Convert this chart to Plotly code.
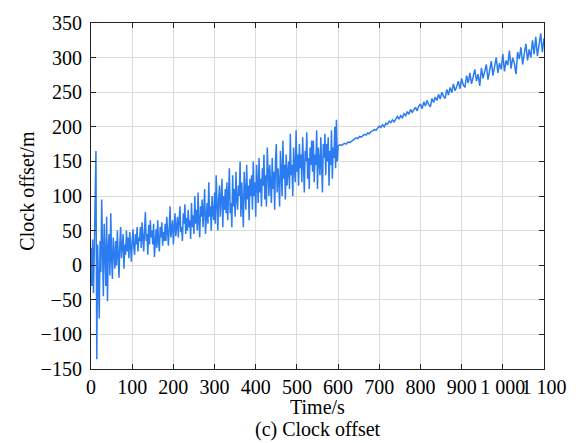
import plotly.graph_objects as go

# --- Data ---
# Segment 1: noisy part, sampled every 2 s from 0 s to 598 s
t_noisy = list(range(0, 600, 2))
offset_noisy = [
    25, -30, 37, -40, 20, 125, 165, -136, 30, -20, -77, 35, -10, 95, 0,
    -45, 60, 15, -30, 70, -52, 25, 45, -15, 75, 10, -20, 40, 20, -5,
    35, 0, 50, 20, -18, 30, 55, 10, 25, 45, -5, 30, 15, 50, 20,
    40, 10, 48, 30, 5, 35, 52, 25, 15, 45, 30, 55, 20, 40, 35,
    55, 25, 62, 40, 20, 50, 77, 35, 45, 15, 58, 30, 65, 40, 50,
    30, 60, 12, 45, 52, 25, 65, 35, 20, 55, 40, 62, 28, 48, 35,
    60, 35, 70, 45, 28, 55, 85, 40, 50, 65, 30, 58, 75, 42, 55,
    70, 40, 62, 85, 48, 55, 35, 75, 60, 88, 45, 68, 50, 80, 55,
    65, 38, 90, 55, 72, 45, 100, 60, 80, 50, 105, 62, 40, 85, 70,
    95, 55, 80, 110, 45, 75, 90, 60, 120, 70, 85, 50, 100, 75, 65,
    105, 60, 130, 80, 50, 95, 115, 70, 90, 125, 55, 100, 80, 110, 75,
    120, 65, 100, 140, 75, 90, 55, 130, 85, 110, 70, 135, 95, 80, 115,
    100, 150, 70, 120, 90, 55, 135, 105, 80, 145, 95, 115, 65, 125, 100,
    130, 80, 150, 100, 120, 70, 145, 110, 90, 155, 105, 125, 85, 140, 115,
    160, 95, 130, 85, 170, 115, 100, 145, 120, 90, 155, 110, 135, 80, 150,
    175, 105, 140, 120, 85, 165, 130, 100, 180, 125, 145, 95, 160, 115, 135,
    150, 110, 190, 130, 145, 100, 170, 140, 120, 195, 135, 160, 115, 175, 140,
    160, 120, 185, 140, 105, 165, 150, 192, 125, 155, 110, 170, 145, 180, 135,
    180, 120, 160, 145, 195, 110, 170, 150, 130, 185, 140, 105, 175, 155, 190,
    130, 175, 150, 185, 115, 165, 145, 195, 125, 170, 155, 200, 140, 210, 150,
]
# Segment 2: smoother part, sampled every 4 s from 600 s to 1100 s
t_smooth = list(range(600, 1101, 4))
offset_smooth = [
    172, 174, 173, 175, 176, 175, 178, 177, 179, 181,
    182, 184, 183, 186, 185, 187, 189, 188, 191, 190,
    193, 194, 196, 195, 198, 201, 199, 203, 200, 205,
    204, 208, 206, 210, 207, 212, 215, 211, 216, 213,
    219, 216, 222, 218, 225, 221, 224, 228, 223, 230,
    233, 226, 236, 230, 238, 232, 229, 241, 235, 243,
    238, 247, 240, 250, 244, 241, 254, 246, 257, 249,
    262, 252, 258, 266, 255, 270, 260, 257, 274, 263,
    278, 262, 272, 283, 266, 276, 259, 285, 270, 280,
    290, 268, 282, 295, 274, 287, 300, 278, 292, 283,
    305, 280, 296, 289, 310, 284, 300, 292, 276, 308,
    298, 315, 290, 305, 320, 296, 312, 300, 325, 305,
    330, 302, 318, 335, 308, 328,
]

x_tickvals = [0, 100, 200, 300, 400, 500, 600, 700, 800, 900, 1000, 1100]
x_ticktext = ["0", "100", "200", "300", "400", "500", "600", "700", "800",
              "900", "1 000", "1 100"]
y_tickvals = [-150, -100, -50, 0, 50, 100, 150, 200, 250, 300, 350]
y_ticktext = ["\u2212150", "\u2212100", "\u221250", "0", "50", "100", "150",
              "200", "250", "300", "350"]

time_s = t_noisy + t_smooth
offset_m = offset_noisy + offset_smooth

FONT = "Liberation Serif, Times New Roman, serif"
FS = 20

fig = go.Figure()
fig.add_trace(go.Scatter(
    x=time_s, y=offset_m, mode="lines",
    line=dict(color="#2B7CF0", width=1.5),
    showlegend=False, hoverinfo="skip",
))

axis_common = dict(
    showline=True, linecolor="#222222", linewidth=1.2, mirror="allticks",
    ticks="inside", ticklen=5, tickcolor="#222222", tickwidth=1,
    showgrid=True, gridcolor="#DCDCDC", gridwidth=1,
    zeroline=False, tickangle=0,
    tickfont=dict(family=FONT, size=FS, color="black"),
)

fig.update_xaxes(
    range=[0, 1100], tickvals=x_tickvals, ticktext=x_ticktext,
    ticklabelstandoff=0,
    **axis_common,
)
fig.update_yaxes(
    range=[-150, 350], tickvals=y_tickvals, ticktext=y_ticktext,
    ticklabelstandoff=4,
    **axis_common,
)

# Axis titles and caption
fig.add_annotation(
    text="Time/s", xref="paper", yref="paper",
    x=0.5, y=-0.11, xanchor="center", yanchor="middle", showarrow=False,
    font=dict(family=FONT, size=FS, color="black"),
)
fig.add_annotation(
    text="(c) Clock offset", xref="paper", yref="paper",
    x=0.5, y=-0.174, xanchor="center", yanchor="middle", showarrow=False,
    font=dict(family=FONT, size=FS, color="black"),
)
fig.add_annotation(
    text="Clock offset/m", xref="paper", yref="paper", textangle=-90,
    x=-0.1413, y=0.5155, xanchor="center", yanchor="middle", showarrow=False,
    font=dict(family=FONT, size=FS, color="black"),
)

fig.update_layout(
    width=579, height=443,
    margin=dict(l=91, r=35, t=14, b=74),
    paper_bgcolor="white", plot_bgcolor="white",
    font=dict(family=FONT, size=FS, color="black"),
)

fig.write_html("out.html")
